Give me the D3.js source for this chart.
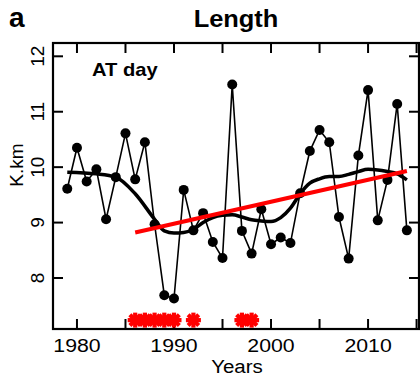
<!DOCTYPE html>
<html>
<head>
<meta charset="utf-8">
<script src="https://cdn.jsdelivr.net/npm/d3@7"></script>
<style>
  body { margin: 0; background: #fff; }
  svg { display: block; font-family: "Liberation Sans", Arial, sans-serif; }
</style>
</head>
<body>
<div class="chart"></div>
<script>
// yearly values (K.km)
const years = d3.range(1979, 2015)
const values = [9.61, 10.35, 9.74, 9.96, 9.06, 9.82, 10.61, 9.78, 10.45, 8.97,
  7.69, 7.63, 9.59, 8.86, 9.17, 8.65, 8.36, 11.49, 8.85, 8.44,
  9.24, 8.61, 8.73, 8.63, 9.53, 10.29, 10.67, 10.45, 9.10, 8.35,
  10.21, 11.39, 9.04, 9.77, 11.14, 8.86]
// smoothed curve
const smoothYears = [1979, 1982, 1984, 1986, 1988, 1989, 1990, 1991, 1992, 1993, 1994,
  1995, 1996, 1997, 1998, 1999, 2000, 2001, 2002, 2003, 2004, 2005, 2006,
  2007, 2008, 2009, 2010, 2011, 2012, 2013, 2014]
const smoothValues = [9.91, 9.88, 9.82, 9.52, 9.06, 8.85, 8.81, 8.82, 8.88, 9.0, 9.09,
  9.13, 9.14, 9.10, 9.05, 9.03, 9.02, 9.09, 9.26, 9.52, 9.71, 9.79, 9.83,
  9.83, 9.87, 9.92, 9.96, 9.95, 9.92, 9.88, 9.77]
// linear trend ends
const trendYears = [1986, 2014]
const trendValues = [8.82, 9.93]
// years flagged with asterisks
const starYears = [1986, 1987, 1988, 1989, 1990, 1992, 1997, 1998]
const starLevel = 7.24

const xTicks = [1980, 1990, 2000, 2010]
const xMinor = d3.range(1980, 2016, 5)
const yTicks = [8, 9, 10, 11, 12]

const width = 420, height = 376
const margin = {top: 43, right: 1, bottom: 47, left: 53}

const svg = d3.select(".chart").append("svg")
  .attr("width", width)
  .attr("height", height)

const x = d3.scaleLinear().domain([1977.53, 2015.25]).range([margin.left, width - margin.right])
const y = d3.scaleLinear().domain([7.08, 12.24]).range([height - margin.bottom, margin.top])

const x0 = margin.left, x1 = width - margin.right
const y0 = height - margin.bottom, y1 = margin.top
const tickLen = 10

// horizontal text in the original is a bit wider than Liberation Sans
function wide (sel, px, py, sx) {
  return sel.attr("transform", "translate(" + px + "," + py + ") scale(" + sx + ",1)")
}

// ticks, all pointing inward
const ticks = svg.append("g").attr("stroke", "#000").attr("stroke-width", 2)
xMinor.forEach(t => {
  ticks.append("line").attr("x1", x(t)).attr("x2", x(t)).attr("y1", y0).attr("y2", y0 - tickLen)
  ticks.append("line").attr("x1", x(t)).attr("x2", x(t)).attr("y1", y1).attr("y2", y1 + tickLen)
})
yTicks.forEach(t => {
  ticks.append("line").attr("x1", x0).attr("x2", x0 + tickLen).attr("y1", y(t)).attr("y2", y(t))
  ticks.append("line").attr("x1", x1).attr("x2", x1 - tickLen).attr("y1", y(t)).attr("y2", y(t))
})

svg.selectAll(".xlab")
  .data(xTicks)
  .enter()
  .append("text")
    .attr("transform", d => "translate(" + x(d) + ",352) scale(1.12,1)")
    .attr("text-anchor", "middle")
    .attr("font-size", 19)
    .text(d => d)

svg.selectAll(".ylab")
  .data(yTicks)
  .enter()
  .append("text")
    .attr("transform", d => "translate(44," + y(d) + ") rotate(-90)")
    .attr("text-anchor", "middle")
    .attr("font-size", 19)
    .text(d => d)

// raw series
const line = d3.line().x((d, i) => x(years[i])).y(d => y(d))
svg.append("path")
  .datum(values)
  .attr("fill", "none")
  .attr("stroke", "#000")
  .attr("stroke-width", 1.6)
  .attr("d", line)

svg.selectAll(".pt")
  .data(values)
  .enter()
  .append("circle")
    .attr("cx", (d, i) => x(years[i]))
    .attr("cy", d => y(d))
    .attr("r", 5)
    .attr("fill", "#000")

// smooth
svg.append("path")
  .datum(smoothValues)
  .attr("fill", "none")
  .attr("stroke", "#000")
  .attr("stroke-width", 3.5)
  .attr("d", d3.line().curve(d3.curveMonotoneX).x((d, i) => x(smoothYears[i])).y(d => y(d)))

// trend
svg.append("path")
  .datum(trendValues)
  .attr("fill", "none")
  .attr("stroke", "#ff0000")
  .attr("stroke-width", 4)
  .attr("d", d3.line().x((d, i) => x(trendYears[i])).y(d => y(d)))

// asterisks
const star = svg.append("g").attr("stroke", "#ff0000").attr("stroke-width", 4.2)
starYears.forEach(t => {
  const cx = x(t), cy = y(starLevel), r = 7.5
  d3.range(4).forEach(k => {
    const a = k * Math.PI / 4
    star.append("line")
      .attr("x1", cx - r * Math.cos(a)).attr("y1", cy - r * Math.sin(a))
      .attr("x2", cx + r * Math.cos(a)).attr("y2", cy + r * Math.sin(a))
  })
})

// box
svg.append("rect")
  .attr("x", x0).attr("y", y1)
  .attr("width", x1 - x0).attr("height", y0 - y1)
  .attr("fill", "none")
  .attr("stroke", "#000")
  .attr("stroke-width", 2.2)

wide(svg.append("text"), 236, 27, 1.06)
  .attr("text-anchor", "middle")
  .attr("font-size", 24)
  .attr("font-weight", "bold")
  .text("Length")

svg.append("text")
  .attr("x", 9).attr("y", 27)
  .attr("font-size", 28)
  .attr("font-weight", "bold")
  .text("a")

wide(svg.append("text"), 92, 76, 1.12)
  .attr("font-size", 18)
  .attr("font-weight", "bold")
  .text("AT day")

svg.append("text")
  .attr("transform", "translate(23,165) rotate(-90)")
  .attr("text-anchor", "middle")
  .attr("font-size", 19)
  .text("K.km")

wide(svg.append("text"), 237, 373, 1.08)
  .attr("text-anchor", "middle")
  .attr("font-size", 19)
  .text("Years")
</script>
</body>
</html>
